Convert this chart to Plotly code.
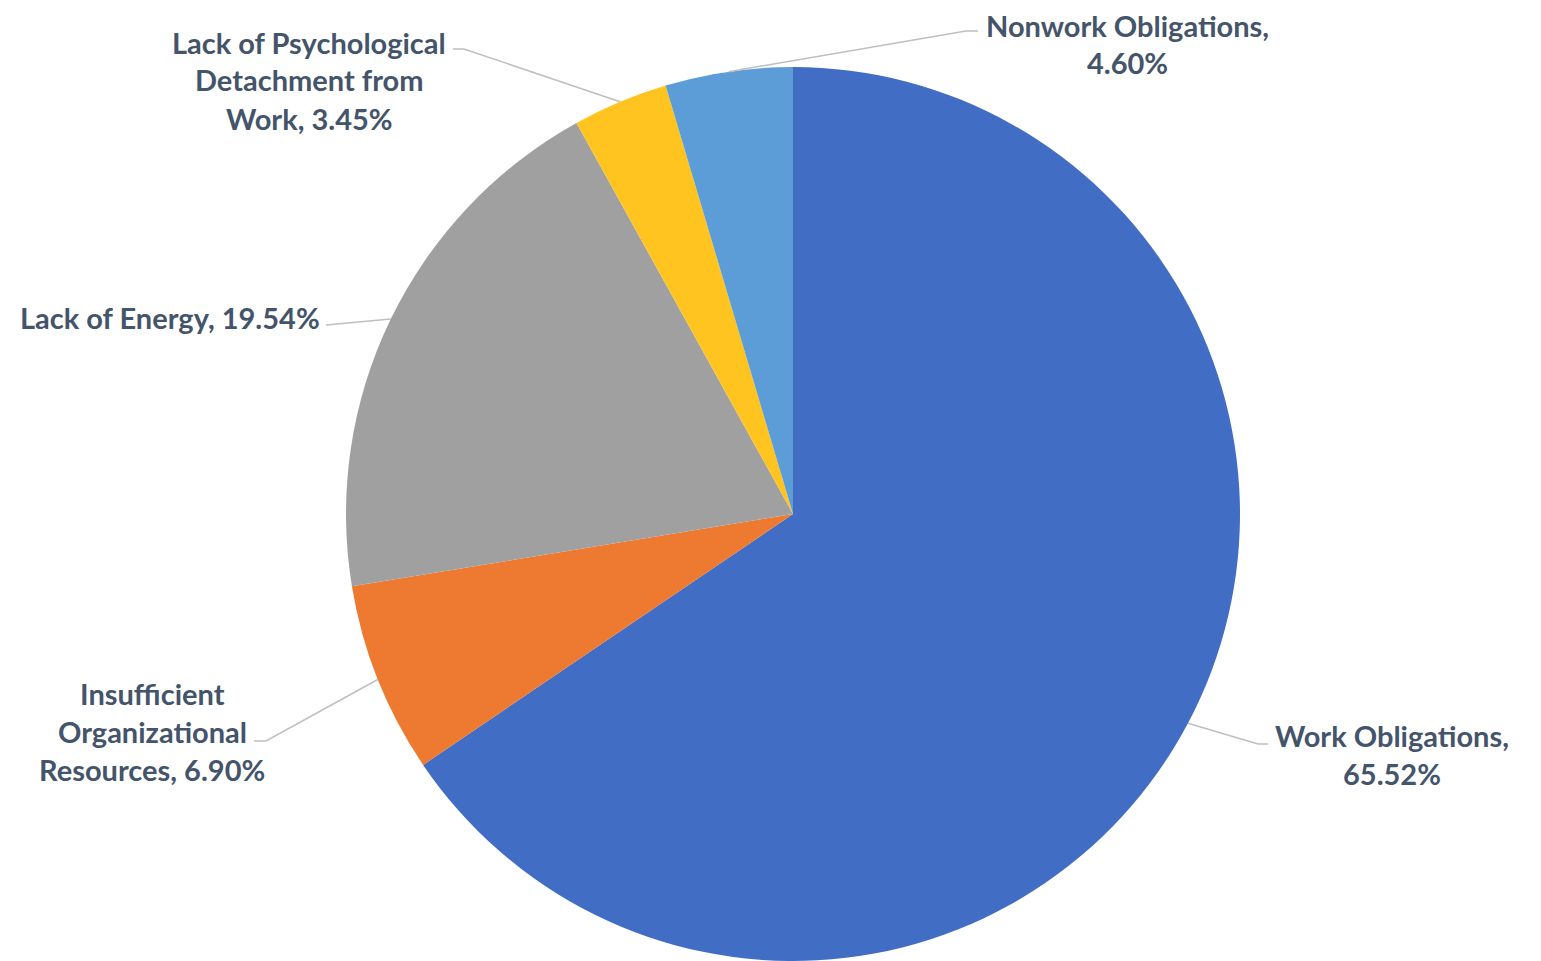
import math
import plotly.graph_objects as go

# ---- data ----
categories = ["Work Obligations", "Insufficient Organizational Resources", "Lack of Energy",
              "Lack of Psychological Detachment from Work", "Nonwork Obligations"]
values = [65.52, 6.90, 19.54, 3.45, 4.60]
colors = ["#416DC4", "#EE7A32", "#A0A0A0", "#FFC420", "#5C9DD8"]

# label wrapping (layout only)
label_lines = [
    ["Work Obligations,", "{v}"],
    ["Insufficient", "Organizational", "Resources, {v}"],
    ["Lack of Energy, {v}"],
    ["Lack of Psychological", "Detachment from", "Work, {v}"],
    ["Nonwork Obligations,", "{v}"],
]

W, H = 1541, 961
OFF = 8  # page body margin offset
CX, CY, R = 793, 514, 447  # pixel geometry of the pie (screen coords)

# label anchor positions (pixels): text center x, first line center y, anchor
label_pos = [
    dict(x=1392, y=735, xanchor="center"),
    dict(x=152, y=693, xanchor="center"),
    dict(x=321, y=318, xanchor="right"),
    dict(x=309, y=42, xanchor="center"),
    dict(x=1127, y=25, xanchor="center"),
]
# leader line elbow and end points (pixels)
leader_pts = [
    [(1258, 744), (1268, 744)],
    [(266, 741), (254, 741)],
    [(326, 325), (326, 325)],
    [(464, 49), (453, 49)],
    [(966, 31), (978, 31)],
]
LINE_H = 38

def px(x):
    return (x - OFF) / W

def py(y):
    return 1 - (y - OFF) / H

fig = go.Figure(go.Pie(
    labels=categories, values=values, sort=False, direction="clockwise", rotation=0,
    marker=dict(colors=colors, line=dict(color="white", width=0)),
    textinfo="none", hoverinfo="label+percent", showlegend=False,
    domain=dict(x=[px(CX - R), px(CX + R)], y=[py(CY + R), py(CY - R)]),
))

total = sum(values)
cum = 0
annotations = []
shapes = []
for i, v in enumerate(values):
    mid = (cum + v / 2) / total
    cum += v
    th = 2 * math.pi * mid
    sx = CX + R * math.sin(th)
    sy = CY - R * math.cos(th)
    (ex1, ey1), (ex2, ey2) = leader_pts[i]
    path = f"M {px(sx)},{py(sy)} L {px(ex1)},{py(ey1)} L {px(ex2)},{py(ey2)}"
    shapes.append(dict(type="path", xref="paper", yref="paper", path=path,
                       line=dict(color="#BFBFBF", width=1.5)))
    pos = label_pos[i]
    for j, ln in enumerate(label_lines[i]):
        annotations.append(dict(
            x=px(pos["x"]), y=py(pos["y"] + j * LINE_H), xref="paper", yref="paper",
            text="<b>" + ln.format(v=f"{v:.2f}%") + "</b>", showarrow=False,
            xanchor=pos["xanchor"], yanchor="middle", borderpad=0,
            font=dict(family="Lato, Open Sans, sans-serif", size=29, color="#44546A"),
        ))

fig.update_layout(
    width=W, height=H, margin=dict(l=0, r=0, t=0, b=0),
    paper_bgcolor="white", plot_bgcolor="white",
    annotations=annotations, shapes=shapes,
)
fig.write_html("out.html")
